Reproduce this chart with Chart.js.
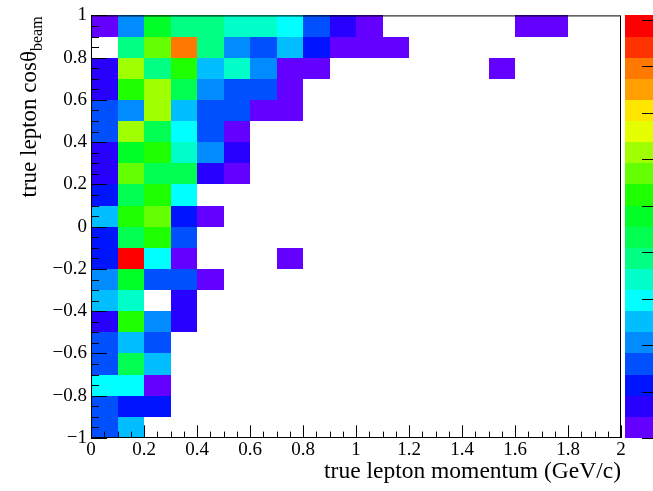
<!DOCTYPE html>
<html>
<head>
<meta charset="utf-8">
<script src="https://cdn.jsdelivr.net/npm/chart.js@4.4.1/dist/chart.umd.min.js"></script>
<style>
html,body{margin:0;padding:0;background:#fff;}
#c{display:block;}
</style>
</head>
<body>
<canvas id="c" width="653" height="491"></canvas>
<script>
// ---- data ----
const xBinEdges = [0, 0.1, 0.2, 0.3, 0.4, 0.5, 0.6, 0.7, 0.8, 0.9, 1.0, 1.1, 1.2, 1.3, 1.4, 1.5, 1.6, 1.7, 1.8, 1.9, 2.0];
// cos(theta) bin edges, top row first
const cosBinEdges = [1.0, 0.9, 0.8, 0.7, 0.6, 0.5, 0.4, 0.3, 0.2, 0.1, 0.0, -0.1, -0.2, -0.3, -0.4, -0.5, -0.6, -0.7, -0.8, -0.9, -1.0];
// bin contents, one row per cos(theta) bin (top row first), one column per momentum bin; 0 = empty
const counts = [
  [0.5, 4.1, 9.6, 7.7, 7.7, 6.8, 6.8, 5.9, 3.2, 1.4, 0.5, 0, 0, 0, 0, 0, 0.5, 0.5, 0, 0],
  [0, 7.7, 11.4, 15.9, 7.7, 4.1, 3.2, 5.0, 2.3, 0.5, 0.5, 0.5, 0, 0, 0, 0, 0, 0, 0, 0],
  [1.4, 12.3, 7.7, 10.5, 5.0, 6.8, 4.1, 0.5, 0.5, 0, 0, 0, 0, 0, 0, 0.5, 0, 0, 0, 0],
  [1.4, 10.5, 12.3, 8.6, 4.1, 3.2, 3.2, 0.5, 0, 0, 0, 0, 0, 0, 0, 0, 0, 0, 0, 0],
  [3.2, 4.1, 12.3, 5.0, 3.2, 3.2, 0.5, 0.5, 0, 0, 0, 0, 0, 0, 0, 0, 0, 0, 0, 0],
  [3.2, 12.3, 8.6, 5.9, 3.2, 0.5, 0, 0, 0, 0, 0, 0, 0, 0, 0, 0, 0, 0, 0, 0],
  [1.4, 9.6, 10.5, 6.8, 4.1, 1.4, 0, 0, 0, 0, 0, 0, 0, 0, 0, 0, 0, 0, 0, 0],
  [1.4, 11.4, 8.6, 8.6, 1.4, 0.5, 0, 0, 0, 0, 0, 0, 0, 0, 0, 0, 0, 0, 0, 0],
  [2.3, 8.6, 10.5, 5.9, 0, 0, 0, 0, 0, 0, 0, 0, 0, 0, 0, 0, 0, 0, 0, 0],
  [5.0, 10.5, 11.4, 2.3, 0.5, 0, 0, 0, 0, 0, 0, 0, 0, 0, 0, 0, 0, 0, 0, 0],
  [2.3, 8.6, 10.5, 3.2, 0, 0, 0, 0, 0, 0, 0, 0, 0, 0, 0, 0, 0, 0, 0, 0],
  [2.3, 17.7, 5.9, 0.5, 0, 0, 0, 0.5, 0, 0, 0, 0, 0, 0, 0, 0, 0, 0, 0, 0],
  [4.1, 9.6, 3.2, 3.2, 0.5, 0, 0, 0, 0, 0, 0, 0, 0, 0, 0, 0, 0, 0, 0, 0],
  [5.0, 6.8, 0, 1.4, 0, 0, 0, 0, 0, 0, 0, 0, 0, 0, 0, 0, 0, 0, 0, 0],
  [1.4, 10.5, 4.1, 1.4, 0, 0, 0, 0, 0, 0, 0, 0, 0, 0, 0, 0, 0, 0, 0, 0],
  [3.2, 5.0, 3.2, 0, 0, 0, 0, 0, 0, 0, 0, 0, 0, 0, 0, 0, 0, 0, 0, 0],
  [3.2, 8.6, 5.0, 0, 0, 0, 0, 0, 0, 0, 0, 0, 0, 0, 0, 0, 0, 0, 0, 0],
  [5.9, 5.9, 0.5, 0, 0, 0, 0, 0, 0, 0, 0, 0, 0, 0, 0, 0, 0, 0, 0, 0],
  [3.2, 2.3, 2.3, 0, 0, 0, 0, 0, 0, 0, 0, 0, 0, 0, 0, 0, 0, 0, 0, 0],
  [3.2, 5.0, 0, 0, 0, 0, 0, 0, 0, 0, 0, 0, 0, 0, 0, 0, 0, 0, 0, 0]
];
const zMax = 18.2;
const zTickValues = [0, 2, 4, 6, 8, 10, 12, 14, 16, 18];
const paletteColors = ['#6400ff', '#2800ff', '#0014ff', '#0050ff', '#008cff', '#00beff', '#00ffff', '#00ffc8', '#00ff82', '#00ff50',
                       '#00ff28', '#1eff00', '#64ff00', '#a0ff00', '#e6ff00', '#ffe600', '#ffa000', '#ff7800', '#ff3200', '#ff0000'];
const xTickValues = [0, 0.2, 0.4, 0.6, 0.8, 1.0, 1.2, 1.4, 1.6, 1.8, 2.0];
const xTickLabels = ['0', '0.2', '0.4', '0.6', '0.8', '1', '1.2', '1.4', '1.6', '1.8', '2'];
const yTickValues = [-1, -0.8, -0.6, -0.4, -0.2, 0, 0.2, 0.4, 0.6, 0.8, 1];
const yTickLabels = ['\u22121', '\u22120.8', '\u22120.6', '\u22120.4', '\u22120.2', '0', '0.2', '0.4', '0.6', '0.8', '1'];
const xTitle = 'true lepton momentum (GeV/c)';
const yTitleMain = 'true lepton cos\u03b8';
const yTitleSub = 'beam';

// ---- build cells ----
const cells = [];
counts.forEach((row, r) => {
  row.forEach((v, c) => {
    if (v > 0) {
      cells.push({
        x: (xBinEdges[c] + xBinEdges[c + 1]) / 2,
        y: (cosBinEdges[r] + cosBinEdges[r + 1]) / 2,
        x0: xBinEdges[c], x1: xBinEdges[c + 1],
        y0: cosBinEdges[r + 1], y1: cosBinEdges[r],
        v: v
      });
    }
  });
});

const SERIF = '"Liberation Serif", "Times New Roman", serif';
const nLevels = paletteColors.length;
function colorFor(v) {
  let k = Math.floor(v / zMax * nLevels);
  if (k < 0) k = 0;
  if (k > nLevels - 1) k = nLevels - 1;
  return paletteColors[k];
}

const heatmapPlugin = {
  id: 'heatmap',
  beforeDatasetsDraw(chart) {
    const {ctx} = chart;
    const xs = chart.scales.x, ys = chart.scales.y;
    ctx.save();
    chart.data.datasets[0].data.forEach(cell => {
      const px0 = Math.round(xs.getPixelForValue(cell.x0));
      const px1 = Math.round(xs.getPixelForValue(cell.x1));
      const py0 = Math.round(ys.getPixelForValue(cell.y1));
      const py1 = Math.round(ys.getPixelForValue(cell.y0));
      ctx.fillStyle = colorFor(cell.v);
      ctx.fillRect(px0, py0, px1 - px0, py1 - py0);
    });
    ctx.restore();
  },
  afterDraw(chart) {
    const {ctx, chartArea} = chart;
    const xs = chart.scales.x, ys = chart.scales.y;
    const L = chartArea.left, R = chartArea.right, T = chartArea.top, B = chartArea.bottom;
    ctx.save();
    // ticks (inward, ROOT style)
    ctx.strokeStyle = '#000';
    ctx.lineWidth = 1;
    ctx.beginPath();
    for (let i = 0; i <= 40; i++) {
      const v = i * 0.05;
      const px = Math.round(xs.getPixelForValue(v)) + 0.5;
      const len = (i % 4 === 0) ? 12.7 : 6.4;
      ctx.moveTo(px, B);
      ctx.lineTo(px, B - len);
    }
    for (let i = 0; i <= 40; i++) {
      const v = -1 + i * 0.05;
      const py = Math.round(ys.getPixelForValue(v)) + 0.5;
      const len = (i % 4 === 0) ? 16 : 8;
      ctx.moveTo(L, py);
      ctx.lineTo(L + len, py);
    }
    ctx.stroke();
    // frame
    ctx.strokeRect(L + 0.5, T + 0.5, R - L - 1, B - T - 1);

    // colour palette
    const pl = R + 4;
    const pr = chart.width + 2;
    for (let k = 0; k < nLevels; k++) {
      const yb = Math.round(ys.getPixelForValue(ys.min + (ys.max - ys.min) * k / nLevels));
      const yt = Math.round(ys.getPixelForValue(ys.min + (ys.max - ys.min) * (k + 1) / nLevels));
      ctx.fillStyle = paletteColors[k];
      ctx.fillRect(pl, yt, pr - pl, yb - yt);
    }
    ctx.beginPath();
    zTickValues.forEach(z => {
      const py = Math.round(ys.getPixelForValue(ys.min + (ys.max - ys.min) * z / zMax)) + 0.5;
      ctx.moveTo(pl + 17, py);
      ctx.lineTo(pr, py);
    });
    ctx.stroke();

    // y title with subscript
    ctx.fillStyle = '#000';
    ctx.translate(36, T + 1);
    ctx.rotate(-Math.PI / 2);
    ctx.textBaseline = 'alphabetic';
    ctx.textAlign = 'left';
    ctx.font = '23px ' + SERIF;
    const w1 = ctx.measureText(yTitleMain).width;
    ctx.font = '16px ' + SERIF;
    const w2 = ctx.measureText(yTitleSub).width;
    ctx.font = '23px ' + SERIF;
    ctx.fillText(yTitleMain, -(w1 + w2), 0);
    ctx.font = '16px ' + SERIF;
    ctx.fillText(yTitleSub, -w2, 6);
    ctx.restore();
  }
};

new Chart(document.getElementById('c'), {
  type: 'scatter',
  data: { datasets: [{ data: cells, pointRadius: 0, pointHoverRadius: 0 }] },
  options: {
    responsive: false,
    animation: false,
    events: [],
    layout: { padding: { top: 12, right: 32, left: 0, bottom: 0 } },
    plugins: { legend: { display: false }, tooltip: { enabled: false } },
    scales: {
      x: {
        type: 'linear', position: 'bottom', min: 0, max: 2,
        afterFit: s => { s.height = 53; },
        afterBuildTicks: s => { s.ticks = xTickValues.map(v => ({ value: v })); },
        grid: { display: false, drawTicks: false },
        border: { display: false },
        ticks: {
          autoSkip: false, maxRotation: 0, minRotation: 0, padding: 1, color: '#000',
          font: { family: SERIF, size: 19 },
          callback: (v, i) => xTickLabels[i]
        },
        title: {
          display: true, text: xTitle, align: 'end', color: '#000',
          font: { family: SERIF, size: 23.5 }, padding: { top: 0, bottom: 5 }
        }
      },
      y: {
        type: 'linear', position: 'left', min: -1, max: 1,
        afterFit: s => { s.width = 91; },
        afterBuildTicks: s => { s.ticks = yTickValues.map(v => ({ value: v })); },
        grid: { display: false, drawTicks: false },
        border: { display: false },
        ticks: {
          autoSkip: false, padding: 4, color: '#000',
          font: { family: SERIF, size: 19 },
          callback: (v, i) => yTickLabels[i]
        }
      }
    }
  },
  plugins: [heatmapPlugin]
});
</script>
</body>
</html>
